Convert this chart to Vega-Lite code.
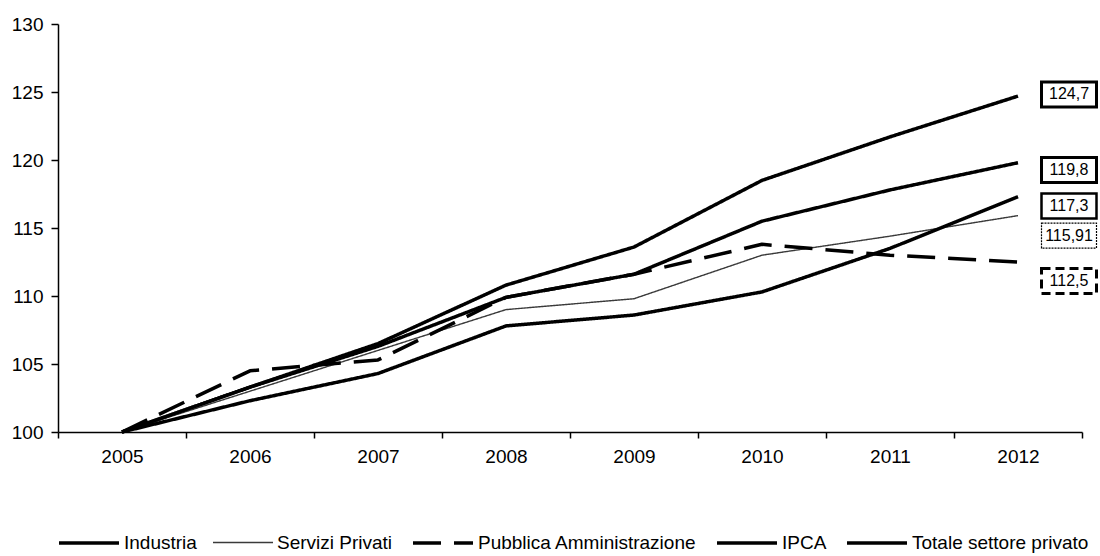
{
  "$schema": "https://vega.github.io/schema/vega-lite/v6.json",
  "width": 1024,
  "height": 408,
  "autosize": {"type": "none"},
  "padding": {"left": 58, "top": 24, "right": 18, "bottom": 124},
  "background": "white",
  "config": {
    "view": {"stroke": null},
    "font": "Liberation Sans",
    "locale": {"number": {"decimal": ",", "thousands": ".", "grouping": [3], "currency": ["€", ""]}}
  },
  "data": {
    "values": [
      {"series": "Industria", "year": "2005", "value": 100},
      {"series": "Industria", "year": "2006", "value": 103.3},
      {"series": "Industria", "year": "2007", "value": 106.5},
      {"series": "Industria", "year": "2008", "value": 110.8},
      {"series": "Industria", "year": "2009", "value": 113.6},
      {"series": "Industria", "year": "2010", "value": 118.5},
      {"series": "Industria", "year": "2011", "value": 121.7},
      {"series": "Industria", "year": "2012", "value": 124.7},
      {"series": "Servizi Privati", "year": "2005", "value": 100},
      {"series": "Servizi Privati", "year": "2006", "value": 103.0},
      {"series": "Servizi Privati", "year": "2007", "value": 106.0},
      {"series": "Servizi Privati", "year": "2008", "value": 109.0},
      {"series": "Servizi Privati", "year": "2009", "value": 109.8},
      {"series": "Servizi Privati", "year": "2010", "value": 113.0},
      {"series": "Servizi Privati", "year": "2011", "value": 114.4},
      {"series": "Servizi Privati", "year": "2012", "value": 115.91},
      {"series": "Pubblica Amministrazione", "year": "2005", "value": 100},
      {"series": "Pubblica Amministrazione", "year": "2006", "value": 104.5},
      {"series": "Pubblica Amministrazione", "year": "2007", "value": 105.3},
      {"series": "Pubblica Amministrazione", "year": "2008", "value": 109.9},
      {"series": "Pubblica Amministrazione", "year": "2009", "value": 111.6},
      {"series": "Pubblica Amministrazione", "year": "2010", "value": 113.8},
      {"series": "Pubblica Amministrazione", "year": "2011", "value": 113.0},
      {"series": "Pubblica Amministrazione", "year": "2012", "value": 112.5},
      {"series": "IPCA", "year": "2005", "value": 100},
      {"series": "IPCA", "year": "2006", "value": 102.3},
      {"series": "IPCA", "year": "2007", "value": 104.3},
      {"series": "IPCA", "year": "2008", "value": 107.8},
      {"series": "IPCA", "year": "2009", "value": 108.6},
      {"series": "IPCA", "year": "2010", "value": 110.3},
      {"series": "IPCA", "year": "2011", "value": 113.5},
      {"series": "IPCA", "year": "2012", "value": 117.3},
      {"series": "Totale settore privato", "year": "2005", "value": 100},
      {"series": "Totale settore privato", "year": "2006", "value": 103.3},
      {"series": "Totale settore privato", "year": "2007", "value": 106.3},
      {"series": "Totale settore privato", "year": "2008", "value": 109.9},
      {"series": "Totale settore privato", "year": "2009", "value": 111.6},
      {"series": "Totale settore privato", "year": "2010", "value": 115.5},
      {"series": "Totale settore privato", "year": "2011", "value": 117.8},
      {"series": "Totale settore privato", "year": "2012", "value": 119.8}
    ]
  },
  "encoding": {
    "x": {
      "field": "year", "type": "ordinal", "bandPosition": 0.5,
      "scale": {"type": "band", "paddingInner": 0, "paddingOuter": 0},
      "axis": {"title": null, "labelAngle": 0, "tickBand": "extent", "labelFontSize": 19, "labelColor": "black", "labelPadding": 9, "tickSize": 6, "tickColor": "black", "domainColor": "black", "domainWidth": 1.5, "tickWidth": 1.5}
    },
    "y": {
      "field": "value", "type": "quantitative",
      "scale": {"domain": [100, 130], "nice": false, "zero": false},
      "axis": {"title": null, "values": [100, 105, 110, 115, 120, 125, 130], "format": "d", "grid": false, "labelFontSize": 19, "labelColor": "black", "labelPadding": 8, "tickSize": 7, "tickColor": "black", "domainColor": "black", "domainWidth": 1.5, "tickWidth": 1.5}
    }
  },
  "layer": [
    {
      "mark": {"type": "line", "strokeCap": "butt", "strokeJoin": "round"},
      "encoding": {
        "color": {
          "field": "series", "type": "nominal",
          "scale": {"domain": ["Industria", "Servizi Privati", "Pubblica Amministrazione", "IPCA", "Totale settore privato"], "range": ["#000000", "#3a3a3a", "#000000", "#000000", "#000000"]},
          "legend": {"orient": "none", "legendX": -1, "legendY": 487, "direction": "horizontal", "title": null, "symbolType": "stroke", "symbolSize": 3600, "labelFontSize": 19, "labelColor": "black", "labelOffset": 3, "labelLimit": 400, "columnPadding": 13}
        },
        "strokeDash": {
          "field": "series", "type": "nominal",
          "scale": {"domain": ["Industria", "Servizi Privati", "Pubblica Amministrazione", "IPCA", "Totale settore privato"], "range": [[1, 0], [1, 0], [28, 13], [1, 0], [1, 0]]},
          "legend": {"orient": "none", "legendX": -1, "legendY": 487, "direction": "horizontal", "title": null, "symbolType": "stroke", "symbolSize": 3600, "labelFontSize": 19, "labelColor": "black", "labelOffset": 3, "labelLimit": 400, "columnPadding": 13}
        },
        "strokeWidth": {
          "field": "series", "type": "nominal",
          "scale": {"type": "ordinal", "domain": ["Industria", "Servizi Privati", "Pubblica Amministrazione", "IPCA", "Totale settore privato"], "range": [3.5, 1.4, 3.5, 3.5, 3.5]},
          "legend": {"orient": "none", "legendX": -1, "legendY": 487, "direction": "horizontal", "title": null, "symbolType": "stroke", "symbolSize": 3600, "labelFontSize": 19, "labelColor": "black", "labelOffset": 3, "labelLimit": 400, "columnPadding": 13}
        }
      }
    },
    {
      "transform": [{"filter": {"and": [{"field": "series", "equal": "Industria"}, {"field": "year", "equal": "2012"}]}}],
      "layer": [
        {"mark": {"type": "point", "shape": "M-1,-0.455H1V0.455H-1Z", "size": 3025, "filled": true, "fill": "white", "stroke": "black", "strokeWidth": 3, "opacity": 1, "xOffset": 51, "yOffset": -1.6}},
        {"mark": {"type": "text", "dx": 51, "dy": -1.6, "fontSize": 16, "align": "center", "baseline": "middle", "color": "black"}, "encoding": {"text": {"field": "value", "type": "quantitative", "format": ".1f"}}}
      ]
    },
    {
      "transform": [{"filter": {"and": [{"field": "series", "equal": "Totale settore privato"}, {"field": "year", "equal": "2012"}]}}],
      "layer": [
        {"mark": {"type": "point", "shape": "M-1,-0.455H1V0.455H-1Z", "size": 3025, "filled": true, "fill": "white", "stroke": "black", "strokeWidth": 3, "opacity": 1, "xOffset": 51, "yOffset": 7.3}},
        {"mark": {"type": "text", "dx": 51, "dy": 7.3, "fontSize": 16, "align": "center", "baseline": "middle", "color": "black"}, "encoding": {"text": {"field": "value", "type": "quantitative", "format": ".1f"}}}
      ]
    },
    {
      "transform": [{"filter": {"and": [{"field": "series", "equal": "IPCA"}, {"field": "year", "equal": "2012"}]}}],
      "layer": [
        {"mark": {"type": "point", "shape": "M-1,-0.455H1V0.455H-1Z", "size": 3025, "filled": true, "fill": "white", "stroke": "black", "strokeWidth": 2.5, "opacity": 1, "xOffset": 51, "yOffset": 9.3}},
        {"mark": {"type": "text", "dx": 51, "dy": 9.3, "fontSize": 16, "align": "center", "baseline": "middle", "color": "black"}, "encoding": {"text": {"field": "value", "type": "quantitative", "format": ".1f"}}}
      ]
    },
    {
      "transform": [{"filter": {"and": [{"field": "series", "equal": "Servizi Privati"}, {"field": "year", "equal": "2012"}]}}],
      "layer": [
        {"mark": {"type": "point", "shape": "M-1,-0.455H1V0.455H-1Z", "size": 3025, "filled": true, "fill": "white", "stroke": "black", "strokeWidth": 1.2, "strokeDash": [2, 1], "opacity": 1, "xOffset": 51, "yOffset": 20}},
        {"mark": {"type": "text", "dx": 51, "dy": 20, "fontSize": 16, "align": "center", "baseline": "middle", "color": "black"}, "encoding": {"text": {"field": "value", "type": "quantitative", "format": ".2f"}}}
      ]
    },
    {
      "transform": [{"filter": {"and": [{"field": "series", "equal": "Pubblica Amministrazione"}, {"field": "year", "equal": "2012"}]}}],
      "layer": [
        {"mark": {"type": "point", "shape": "M-1,-0.455H1V0.455H-1Z", "size": 3025, "filled": true, "fill": "white", "stroke": "black", "strokeWidth": 3, "strokeDash": [9, 5], "opacity": 1, "xOffset": 51, "yOffset": 19}},
        {"mark": {"type": "text", "dx": 51, "dy": 19, "fontSize": 16, "align": "center", "baseline": "middle", "color": "black"}, "encoding": {"text": {"field": "value", "type": "quantitative", "format": ".1f"}}}
      ]
    }
  ]
}
